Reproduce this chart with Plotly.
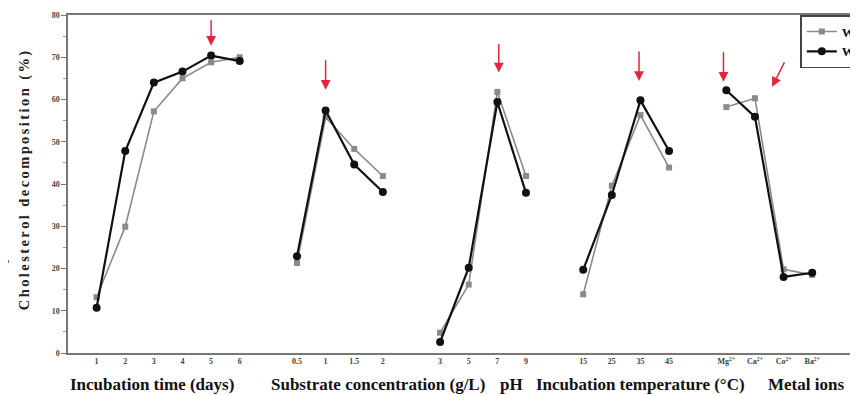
import plotly.graph_objects as go

# ---- data ----
time_days = ["1", "2", "3", "4", "5", "6"]
substrate_gl = ["0.5", "1", "1.5", "2"]
ph_values = ["3", "5", "7", "9"]
temp_c = ["15", "25", "35", "45"]
metal_ions = ["Mg<sup>2+</sup>", "Ca<sup>2+</sup>", "Co<sup>2+</sup>", "Ba<sup>2+</sup>"]

gray_time = [13.2, 29.9, 57.2, 65.0, 68.8, 70.0]
gray_substrate = [21.3, 55.8, 48.3, 41.9]
gray_ph = [4.8, 16.2, 61.8, 41.9]
gray_temp = [13.9, 39.6, 56.3, 43.9]
gray_metal = [58.2, 60.3, 19.8, 18.5]

black_time = [10.7, 47.8, 64.0, 66.6, 70.4, 69.1]
black_substrate = [22.9, 57.4, 44.6, 38.1]
black_ph = [2.6, 20.2, 59.4, 37.9]
black_temp = [19.7, 37.4, 59.8, 47.8]
black_metal = [62.2, 55.9, 18.0, 19.0]

series_names = ["WT", "WT-M"]
group_titles = ["Incubation time (days)", "Substrate concentration (g/L)", "pH",
                "Incubation temperature (\u00b0C)", "Metal ions"]

groups = [time_days, substrate_gl, ph_values, temp_c, metal_ions]
gray_groups = [gray_time, gray_substrate, gray_ph, gray_temp, gray_metal]
black_groups = [black_time, black_substrate, black_ph, black_temp, black_metal]

# ---- build index positions (one empty slot between groups) ----
xs, ticktext, gy, by = [], [], [], []
pos = 0
for labels, g, b in zip(groups, gray_groups, black_groups):
    for lab, gv, bv in zip(labels, g, b):
        xs.append(pos); ticktext.append(lab); gy.append(gv); by.append(bv)
        pos += 1
    xs.append(pos); gy.append(None); by.append(None)  # gap
    pos += 1
tickvals = [x for x, v in zip(xs, gy) if v is not None]

serif = "Liberation Serif"
fig = go.Figure()
fig.add_trace(go.Scatter(
    x=xs, y=gy, name=series_names[0], mode="lines+markers", connectgaps=False,
    line=dict(color="#8a8a8a", width=1.6),
    marker=dict(symbol="square", size=6, color="#8a8a8a")))
fig.add_trace(go.Scatter(
    x=xs, y=by, name=series_names[1], mode="lines+markers", connectgaps=False,
    line=dict(color="#111111", width=2.2),
    marker=dict(symbol="circle", size=8, color="#111111")))

# red arrows (tip x index, tip y value, tail offsets px)
arrows = [(4, 72.7, 0, -27), (8, 62.3, 0, -31), (14.05, 66.4, 0, -30),
          (18.95, 64.4, 0, -31), (21.9, 64.2, 0, -31), (23.6, 63.0, 13, -26)]
for ax_x, ax_y, dx, dy in arrows:
    fig.add_annotation(x=ax_x, y=ax_y, xref="x", yref="y", text="", showarrow=True,
                       ax=dx, ay=dy, arrowhead=2, arrowsize=1.3, arrowwidth=1.5,
                       arrowcolor="#e3263f")

# group titles beneath the axis
title_x = [1.93, 9.83, 14.5, 19.0, 24.8]
for t, tx in zip(group_titles, title_x):
    fig.add_annotation(x=tx, y=-0.094, xref="x", yref="paper", yanchor="middle",
                       text=t, showarrow=False,
                       font=dict(family=serif, size=17, color="#111111", weight="bold"))

# y axis title (letter-spaced)
ytitle = "\u2006".join("Cholesterol decomposition (%)")
fig.add_annotation(x=-0.055, y=0.51, xref="paper", yref="paper", text=ytitle,
                   textangle=-90, showarrow=False, xanchor="center",
                   font=dict(family=serif, size=14.5, color="#222222", weight="bold"))
fig.add_annotation(x=-0.085, y=0.25, xref="paper", yref="paper", text="\u25bc",
                   showarrow=False, font=dict(size=8, color="#222222"))

# page body adds an 8px offset; the figure is sized so the plot area
# spans x 68..858 and y 15..345 of the window
fig.update_layout(
    width=850, height=387,
    margin=dict(l=60, r=0, t=7, b=42, autoexpand=False),
    plot_bgcolor="white", paper_bgcolor="white",
    showlegend=True,
    legend=dict(x=0.927, y=1.0, xanchor="left", yanchor="top",
                bordercolor="#444444", borderwidth=1.5, bgcolor="white",
                font=dict(family=serif, size=13, color="#111111", weight="bold"),
                tracegroupgap=0, itemwidth=30),
    xaxis=dict(range=[-1.0, 26.6], tickvals=tickvals, ticktext=ticktext,
               showgrid=False, zeroline=False, ticks="", showline=True,
               linecolor="#777777", linewidth=1.5, mirror=True,
               tickfont=dict(family=serif, size=8, color="#444444", weight="bold")),
    yaxis=dict(range=[0, 80], dtick=10, showgrid=False, zeroline=False,
               ticks="outside", ticklen=5, tickcolor="#777777", showline=True,
               linecolor="#777777", linewidth=1.5,
               minor=dict(dtick=5, ticks="outside", ticklen=3, tickcolor="#999999"),
               tickfont=dict(family=serif, size=8, color="#444444", weight="bold")),
)

fig.write_html("out.html")
